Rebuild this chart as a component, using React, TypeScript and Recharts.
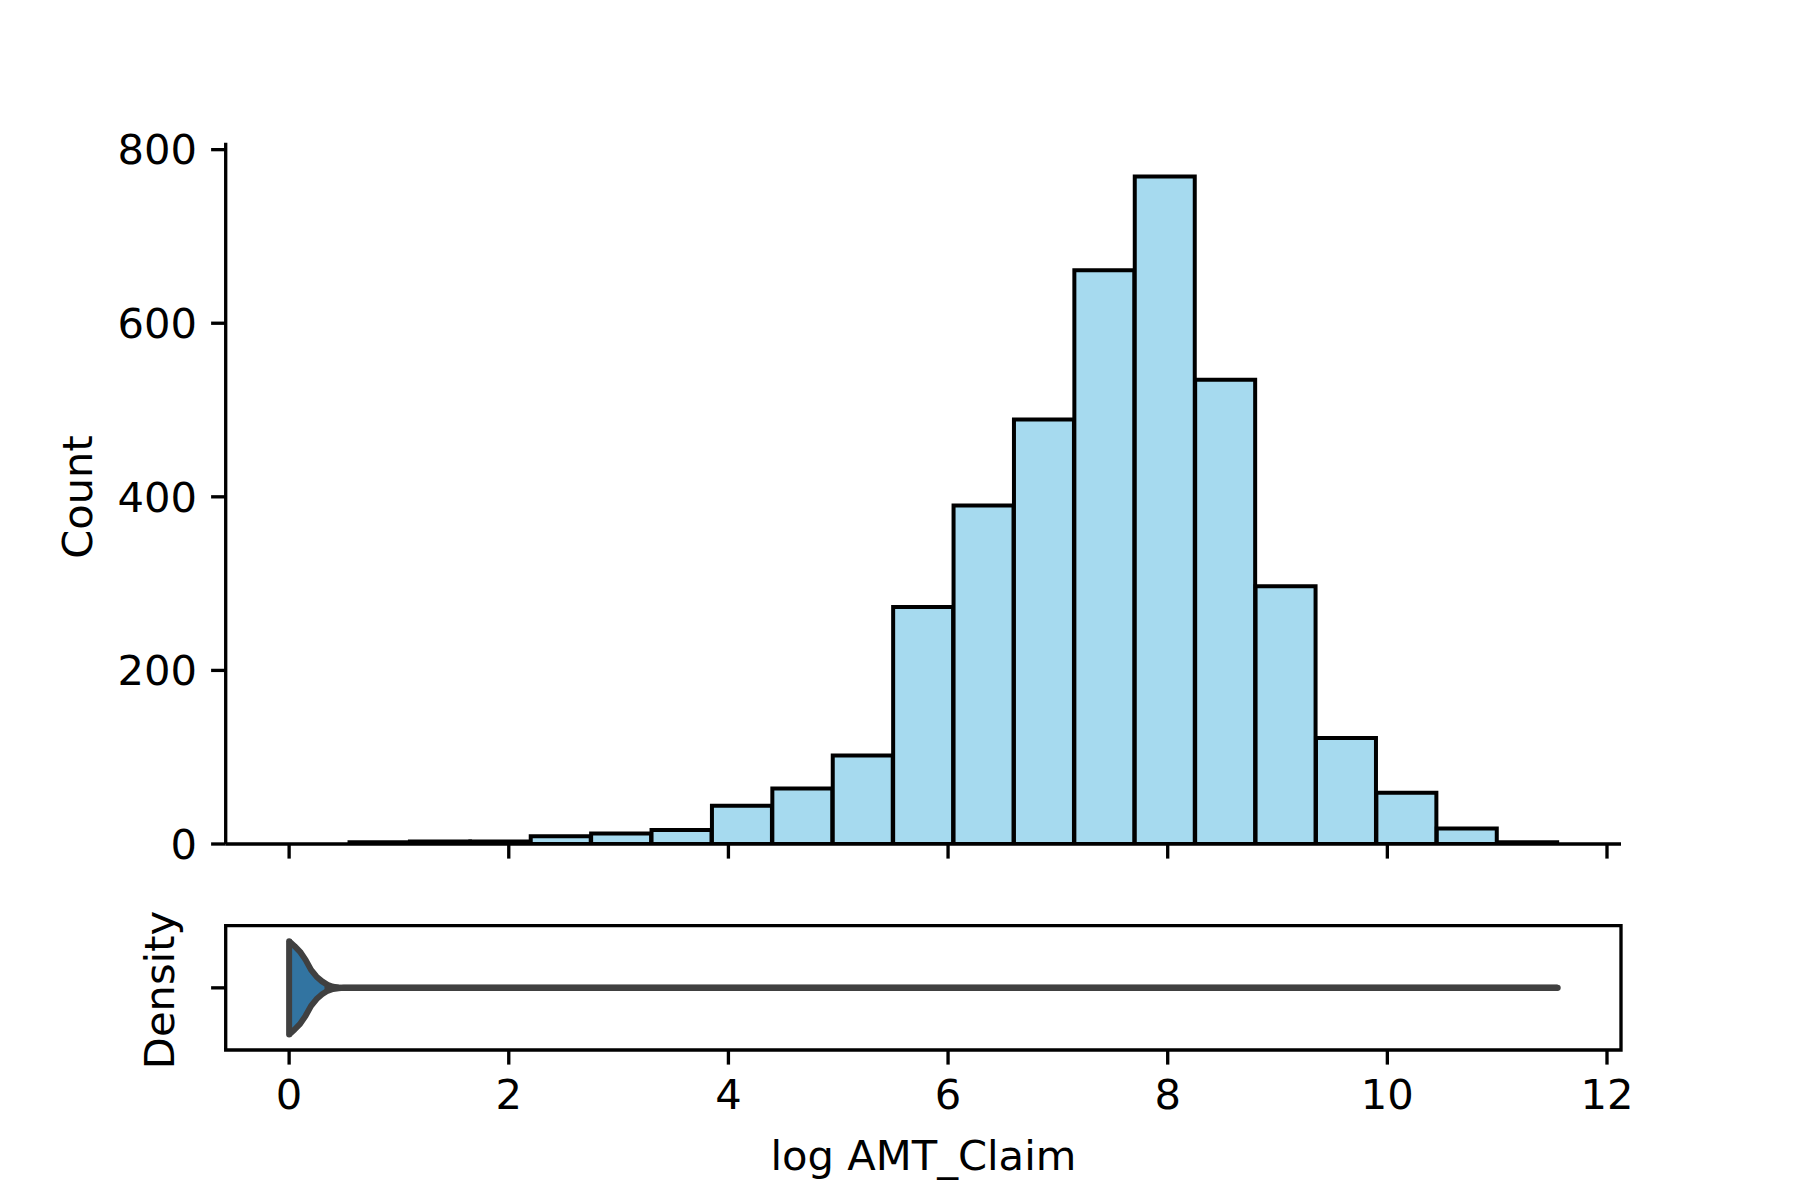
import React from 'react';
import {
  ComposedChart,
  Bar,
  Area,
  Line,
  XAxis,
  YAxis,
  ReferenceArea,
  ReferenceLine,
} from 'recharts';

// Histogram bins (lower edges) of log AMT_Claim, bin width 0.55
const binLower = [0, 0.55, 1.1, 1.65, 2.2, 2.75, 3.3, 3.85, 4.4, 4.95, 5.5, 6.05, 6.6, 7.15, 7.7, 8.25, 8.8, 9.35, 9.9, 10.45, 11.0];
const binWidth = 0.55;
const counts = [0, 2, 3, 3, 9, 12, 16, 44, 64, 102, 273, 390, 489, 661, 769, 535, 297, 122, 59, 18, 2];

const xTicks = [0, 2, 4, 6, 8, 10, 12];
const yTicks = [0, 200, 400, 600, 800];

// Violin outline (half widths) along x
const violinX = [0, 0.05, 0.1, 0.15, 0.2, 0.25, 0.3, 0.35, 0.4, 0.45, 0.5, 11.55];
const violinHalf = [0.375, 0.335, 0.29, 0.225, 0.145, 0.09, 0.052, 0.024, 0.009, 0.003, 0, 0];
// Whisker line (visible outside the violin body)
const whisker = [null, null, null, null, null, null, null, 0, 0, 0, 0, 0];

const X_DOMAIN: [number, number] = [-0.5775, 12.1275];
const FONT = 'DejaVu Sans';
const FS = 41.67;
const SPINE = 3.33;
const TICK = 14.6;

const histData = binLower.map((lo, i) => ({ mid: lo + binWidth / 2, count: counts[i] }));
const violinData = violinX.map((x, i) => ({ x, range: [-violinHalf[i], violinHalf[i]], center: whisker[i] }));

const tickStyle = { fill: '#000', fontSize: FS, fontFamily: FONT };
const lineStyle = { stroke: '#000', strokeWidth: SPINE };

export default function App() {
  return (
    <div style={{ position: 'absolute', left: 0, top: 0, width: 1800, height: 1200, background: '#fff' }}>
      <div style={{ position: 'absolute', left: 0, top: 0 }}>
        <ComposedChart
          width={1800}
          height={900}
          data={histData}
          margin={{ top: 142.7, right: 179, bottom: 0, left: 0 }}
          barCategoryGap={0}
          barGap={0}
        >
          <XAxis
            type="number"
            dataKey="mid"
            domain={X_DOMAIN}
            allowDataOverflow
            ticks={xTicks}
            tickFormatter={() => ''}
            height={56}
            tickSize={TICK}
            axisLine={lineStyle}
            tickLine={lineStyle}
            tick={tickStyle}
          />
          <YAxis
            type="number"
            domain={[0, 808]}
            allowDataOverflow
            ticks={yTicks}
            width={225.7}
            tickSize={TICK}
            tickMargin={14}
            axisLine={lineStyle}
            tickLine={lineStyle}
            tick={tickStyle}
            label={() => (
              <text
                x={91.7}
                y={497}
                transform="rotate(-90 91.7 497)"
                textAnchor="middle"
                fontSize={FS}
                fontFamily={FONT}
                fill="#000"
              >
                Count
              </text>
            )}
          />
          <Bar dataKey="count" fill="#a6daef" stroke="#000" strokeWidth={4} isAnimationActive={false} />
        </ComposedChart>
      </div>
      <div style={{ position: 'absolute', left: 0, top: 900 }}>
        <ComposedChart
          width={1800}
          height={300}
          data={violinData}
          margin={{ top: 25.7, right: 179, bottom: 0, left: 0 }}
        >
          <XAxis
            type="number"
            dataKey="x"
            domain={X_DOMAIN}
            allowDataOverflow
            ticks={xTicks}
            height={150}
            tickSize={TICK}
            tickMargin={15}
            axisLine={false}
            tickLine={lineStyle}
            tick={tickStyle}
            label={() => (
              <text x={923.4} y={270} textAnchor="middle" fontSize={FS} fontFamily={FONT} fill="#000">
                log AMT_Claim
              </text>
            )}
          />
          <YAxis
            type="number"
            domain={[-0.5, 0.5]}
            allowDataOverflow
            ticks={[0]}
            tickFormatter={() => ''}
            width={225.7}
            tickSize={TICK}
            axisLine={false}
            tickLine={lineStyle}
            tick={tickStyle}
            label={() => (
              <text
                x={174}
                y={90}
                transform="rotate(-90 174 90)"
                textAnchor="middle"
                fontSize={FS}
                fontFamily={FONT}
                fill="#000"
              >
                Density
              </text>
            )}
          />
          <Area
            type="linear"
            dataKey="range"
            fill="#3274a1"
            fillOpacity={1}
            stroke="#404040"
            strokeWidth={6}
            strokeLinejoin="round"
            isAnimationActive={false}
            dot={false}
            activeDot={false}
          />
          <Line
            type="linear"
            dataKey="center"
            stroke="#404040"
            strokeWidth={6.3}
            strokeLinecap="round"
            dot={false}
            activeDot={false}
            isAnimationActive={false}
          />
          <ReferenceLine
            segment={[
              { x: violinX[0], y: -violinHalf[0] },
              { x: violinX[0], y: violinHalf[0] },
            ]}
            stroke="#404040"
            strokeWidth={6}
            strokeLinecap="round"
          />
          <ReferenceArea
            x1={X_DOMAIN[0]}
            x2={X_DOMAIN[1]}
            y1={-0.5}
            y2={0.5}
            fill="none"
            stroke="#000"
            strokeWidth={SPINE}
            ifOverflow="visible"
          />
        </ComposedChart>
      </div>
    </div>
  );
}
